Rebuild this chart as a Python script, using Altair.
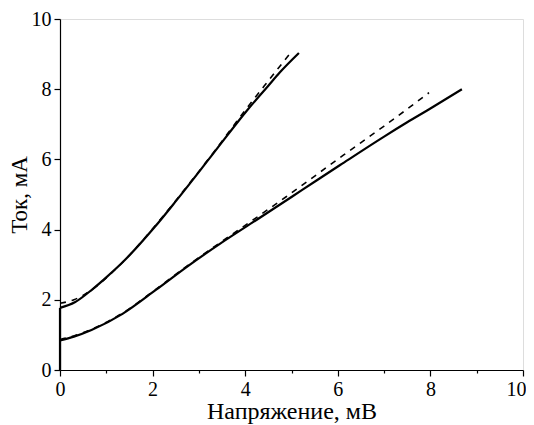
import altair as alt
import pandas as pd

# Upper curve (measured, solid)
upper_x = [0.0, 0.32, 0.7, 1.0, 1.33, 2.05, 2.52, 3.3, 4.03, 4.5, 4.75, 5.16]
upper_y = [1.77, 1.93, 2.3, 2.64, 3.04, 4.08, 4.84, 6.15, 7.38, 8.1, 8.48, 9.03]
# Upper curve (fit, dashed)
upper_fit_x = [0.0, 0.3, 0.7, 1.33, 2.05, 2.52, 3.3, 4.0, 4.5, 5.0]
upper_fit_y = [1.9, 2.0, 2.3, 3.04, 4.1, 4.86, 6.17, 7.4, 8.24, 9.07]
# Lower curve (measured, solid)
lower_x = [0.0, 0.3, 0.68, 1.35, 2.07, 2.74, 3.46, 4.25, 5.0, 5.54, 6.05, 7.0, 7.49, 8.0, 8.68]
lower_y = [0.84, 0.95, 1.14, 1.6, 2.28, 2.94, 3.6, 4.28, 4.93, 5.4, 5.84, 6.65, 7.05, 7.45, 8.0]
# Lower curve (fit, dashed)
lower_fit_x = [0.0, 0.3, 0.68, 1.35, 2.07, 2.74, 3.46, 4.25, 4.9, 6.12, 7.0, 7.97]
lower_fit_y = [0.87, 0.97, 1.16, 1.62, 2.3, 2.96, 3.63, 4.35, 4.95, 6.12, 6.95, 7.9]
# Vertical jump at zero voltage
jump_x = [0.0, 0.0]
jump_y = [0.0, 1.77]

ticks = list(range(0, 11))

def frame(xs, ys, name):
    return pd.DataFrame({"x": xs, "y": ys, "series": name, "order": range(len(xs))})

solid = pd.concat([frame(upper_x, upper_y, "upper"), frame(lower_x, lower_y, "lower")])
dashed = pd.concat([frame(upper_fit_x, upper_fit_y, "upper_fit"),
                    frame(lower_fit_x, lower_fit_y, "lower_fit")])
jump = frame(jump_x, jump_y, "jump")

FONT = "Liberation Serif, Times New Roman, Tinos, DejaVu Serif, serif"
tick_cond = {"condition": {"test": "datum.value % 2 == 1", "value": 3}, "value": 6}

xscale = alt.Scale(domain=[0, 10], nice=False)
yscale = alt.Scale(domain=[0, 10], nice=False)

common = dict(values=ticks, grid=False,
              labelExpr="datum.value % 2 == 0 ? datum.label : ''",
              tickSize=tick_cond, labelFontSize=20,
              labelFont=FONT, titleFont=FONT, labelColor="black", titleColor="black",
              domainColor="black", tickColor="black", domainWidth=1.2, tickWidth=1.2,
              titleFontWeight="normal", labelFlush=False)
xaxis = alt.Axis(title="Напряжение, мВ", labelPadding=3, titlePadding=0, titleFontSize=24,
                 labelAlign={"condition": {"test": "datum.value == 10", "value": "right"}, "value": "center"},
                 labelOffset={"condition": {"test": "datum.value == 10", "value": 3}, "value": 0},
                 **common)
yaxis = alt.Axis(title="Ток, мА", labelPadding=3, titlePadding=0, titleFontSize=23, **common)

base_solid = alt.Chart(solid).mark_line(color="black", strokeWidth=2.2, interpolate="monotone").encode(
    x=alt.X("x:Q", scale=xscale, axis=xaxis),
    y=alt.Y("y:Q", scale=yscale, axis=yaxis),
    detail="series:N",
    order="order:Q",
)
base_dash = alt.Chart(dashed).mark_line(color="black", strokeWidth=1.6, strokeDash=[6, 6],
                                        interpolate="monotone").encode(
    x="x:Q", y="y:Q", detail="series:N", order="order:Q"
)
base_jump = alt.Chart(jump).mark_line(color="black", strokeWidth=2.2).encode(
    x="x:Q", y="y:Q", order="order:Q"
)

chart = (base_dash + base_solid + base_jump).properties(
    width=463, height=351,
    autosize=alt.AutoSizeParams(type="none"),
    padding={"left": 52, "top": 11, "right": 3, "bottom": 55},
).configure_view(stroke=None).configure(background="white")

chart.save("out.html", embed_options={"renderer": "svg", "actions": False})
